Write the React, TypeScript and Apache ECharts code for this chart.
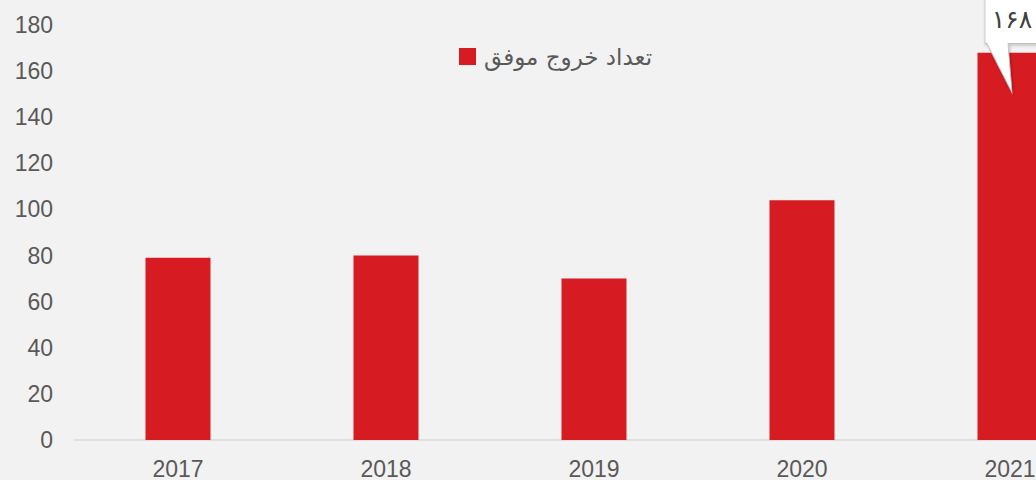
import React, { useEffect, useRef } from "react";
import * as echarts from "echarts";

const categories = ["2017", "2018", "2019", "2020", "2021"];
const values = [79, 80, 70, 104, 168];
const seriesName = "تعداد خروج موفق";
const yTicks = { min: 0, max: 180, interval: 20 };

const faDigits = "۰۱۲۳۴۵۶۷۸۹";
const toFa = (n: number) => String(n).replace(/\d/g, (d) => faDigits[Number(d)]);

const calloutPath = "path://M0,0 L60,0 L60,53 L23,53 L27,102 L2,53 L0,53 Z";

export default function App() {
  const ref = useRef<HTMLDivElement>(null);
  useEffect(() => {
    if (!ref.current) return;
    const chart = echarts.init(ref.current, null, { renderer: "svg" });
    const last = values.length - 1;
    chart.setOption({
      animation: false,
      backgroundColor: "#f2f2f2",
      textStyle: { fontFamily: "Liberation Sans, Arial, sans-serif" },
      grid: { left: 74, top: 25, bottom: 40, width: 1040 },
      legend: {
        data: [seriesName],
        left: 454,
        top: 40,
        itemWidth: 17,
        itemHeight: 17,
        itemGap: 8,
        icon: "rect",
        textStyle: {
          color: "#595959",
          fontSize: 23,
          fontFamily: "DejaVu Sans, Noto Sans, sans-serif",
          padding: [0, 0, 0, 3],
        },
      },
      xAxis: {
        type: "category",
        data: categories,
        axisLine: { lineStyle: { color: "#d9d9d9", width: 1.5 } },
        axisTick: { show: false },
        axisLabel: { color: "#595959", fontSize: 23, margin: 17 },
      },
      yAxis: {
        type: "value",
        min: yTicks.min,
        max: yTicks.max,
        interval: yTicks.interval,
        splitLine: { show: false },
        axisLine: { show: false },
        axisTick: { show: false },
        axisLabel: { color: "#595959", fontSize: 23, margin: 21 },
      },
      series: [
        {
          name: seriesName,
          type: "bar",
          data: values,
          barWidth: 65,
          itemStyle: { color: "#d71b22" },
          markPoint: {
            symbol: calloutPath,
            symbolSize: [60, 102],
            symbolKeepAspect: false,
            symbolOffset: [5, -11],
            itemStyle: {
              color: "#ffffff",
              borderColor: "#bfbfbf",
              borderWidth: 1,
              shadowBlur: 3,
              shadowColor: "rgba(0,0,0,0.25)",
              shadowOffsetX: 1,
              shadowOffsetY: 1,
            },
            label: {
              show: true,
              position: "inside",
              offset: [-3, -22],
              color: "#404040",
              fontSize: 25,
              fontFamily: "DejaVu Sans, Noto Sans, sans-serif",
              formatter: (p: any) => toFa(p.value),
            },
            data: [{ coord: [categories[last], values[last]], value: values[last] }],
          },
        },
      ],
    });
    return () => chart.dispose();
  }, []);
  return (
    <div style={{ position: "absolute", left: 0, top: 0, width: 1036, height: 480, overflow: "hidden", background: "#f2f2f2" }}>
      <div ref={ref} style={{ width: 1120, height: 480 }} />
    </div>
  );
}
